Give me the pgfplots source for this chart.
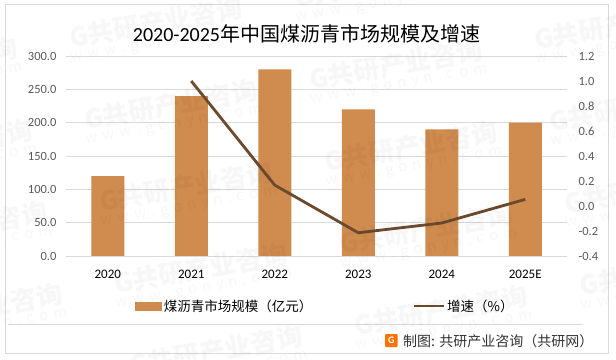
\documentclass[border=0pt]{standalone}
\usepackage{fontspec}
\usepackage{pgfplots}
\pgfplotsset{compat=1.18}
\setmainfont{Carlito}
\newfontfamily\cjk{Noto Sans CJK SC}
\definecolor{barc}{HTML}{D08B4E}
\definecolor{linec}{HTML}{6B4A2E}
\definecolor{gridc}{HTML}{D9D9D9}
\definecolor{tickc}{HTML}{595959}
\newcommand{\wm}[2]{\node[rotate=10,opacity=0.03,black,align=center,inner sep=0pt,font=\cjk] at (#1,{359-(#2)}) {{\fontsize{26}{28}\selectfont\bfseries G共研产业咨询}\\[2pt]{\fontsize{15}{16}\selectfont w\,\,w\,\,w\,\,.\,\,g\,\,o\,\,n\,\,y\,\,n\,\,.\,\,c\,\,o\,\,m}};}
\begin{document}
\begin{tikzpicture}[x=1pt,y=1pt]
\useasboundingbox (0,0) rectangle (616,359);
\fill[white] (0,0) rectangle (616,359);
\draw[gridc,line width=1pt] (5,6) rectangle (608.5,354);
\draw[gridc,line width=0.8pt] (8,34.5) -- (583,34.5);
\node[font=\fontsize{20}{22}\selectfont,inner sep=0pt] at (306.5,325) {2020-2025{\cjk 年中国煤沥青市场规模及增速}};
\begin{axis}[
  at={(66pt,103pt)},anchor=south west,scale only axis,width=501pt,height=200pt,
  xmin=-0.5,xmax=5.5,ymin=0,ymax=300,
  ytick={0,50,...,300},xtick={0,1,2,3,4,5},
  xticklabels={2020,2021,2022,2023,2024,2025E},
  axis y line*=left,axis x line*=bottom,
  axis line style={draw=none},
  major tick length=0pt,
  ymajorgrids,grid style={gridc,line width=0.8pt},
  /pgf/number format/assume math mode=true,
  /pgf/number format/fixed,/pgf/number format/fixed zerofill,/pgf/number format/precision=1,
  yticklabel style={font=\fontsize{12.5}{13}\selectfont,text=tickc,xshift=-6pt},
  xticklabel style={font=\fontsize{13}{14}\selectfont,text=black,yshift=-11pt},
]
\addplot[ybar,bar width=33pt,fill=barc,draw=none] coordinates {(0,120)(1,240)(2,280)(3,220)(4,190)(5,200)};
\end{axis}
\begin{axis}[
  at={(66pt,103pt)},anchor=south west,scale only axis,width=501pt,height=200pt,
  xmin=-0.5,xmax=5.5,ymin=-0.4,ymax=1.2,
  ytick={-0.4,-0.2,0,0.2,0.4,0.6,0.8,1.0,1.2},
  axis y line*=right,axis x line=none,
  axis line style={draw=none},
  major tick length=0pt,
  /pgf/number format/assume math mode=true,
  /pgf/number format/fixed,/pgf/number format/fixed zerofill,/pgf/number format/precision=1,
  yticklabel style={font=\fontsize{12.5}{13}\selectfont,text=tickc,xshift=8pt},
  legend columns=2,
  legend style={draw=none,fill=none,at={(0.518,-0.25)},anchor=center,
    font=\fontsize{13.5}{15}\selectfont\cjk,
    /tikz/every even column/.append style={column sep=98pt},
    inner sep=0pt},
]
\addlegendimage{legend image code/.code={\fill[barc] (-4pt,-4pt) rectangle (22pt,4pt);}}
\addlegendentry{煤沥青市场规模（亿元）}
\addlegendimage{legend image code/.code={\draw[linec,line width=2.8pt] (-3pt,0pt) -- (27pt,0pt);}}
\addlegendentry{增速（\%）}
\addplot[linec,line width=2.8pt,line join=round,forget plot] coordinates {(1,1.0)(2,0.167)(3,-0.214)(4,-0.136)(5,0.053)};
\end{axis}
\fill[orange!90!red,rounded corners=1pt] (385,12) rectangle (397.5,25);
\node[white,font=\bfseries\fontsize{10}{10}\selectfont,inner sep=0pt] at (391.2,18.5) {G};
\node[anchor=west,inner sep=0pt,font=\fontsize{14}{15}\selectfont\cjk,text=black!80] at (403,18) {制图: 共研产业咨询（共研网）};
\foreach \a/\b in {157/30,172/112,187/194,202/276,217/358,397/72,412/154,427/236,442/318,382/-10,622/32,637/114,652/196,667/278,-68/70,-53/152,-38/234,-23/316}{\wm{\a}{\b}}
\end{tikzpicture}
\end{document}
